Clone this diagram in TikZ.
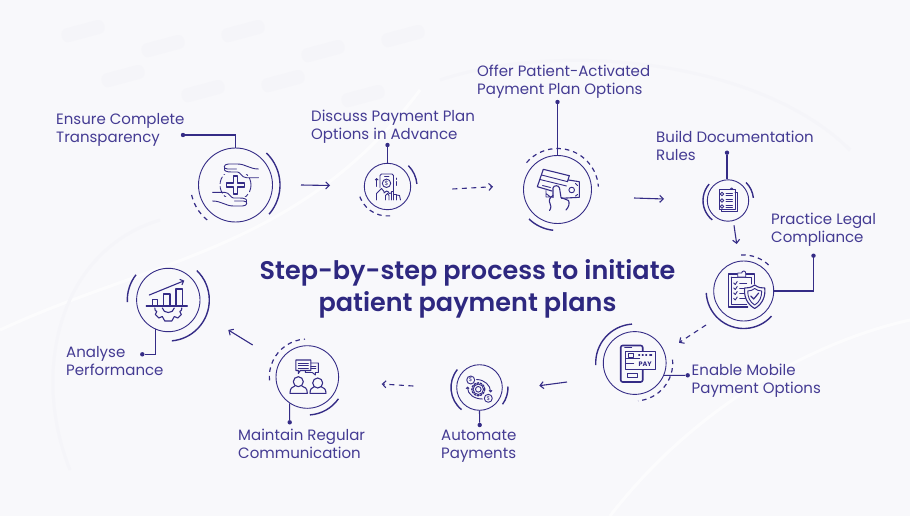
\documentclass[tikz,border=0pt]{standalone}
\usepackage{fontspec}
\setmainfont{Poppins}
\newfontfamily\ttlfont{Poppins SemiBold}
\usetikzlibrary{arrows.meta,calc}
\definecolor{ink}{HTML}{352C86}
\definecolor{txt}{HTML}{443B93}
\definecolor{ttl}{HTML}{2E2880}
\definecolor{bgc}{HTML}{F8F8FB}
\definecolor{fnt}{HTML}{F5F5F9}
\tikzset{
 ring/.style={circle,draw=ink,line width=.9pt,inner sep=0pt},
 sarc/.style={draw=ink,line width=1.4pt},
 darc/.style={draw=ink,line width=1.2pt,dash pattern=on 4.5pt off 4pt},
 dotn/.style={circle,fill=ink,inner sep=0pt,minimum size=4.4pt},
 conn/.style={draw=ink,line width=1.1pt},
 flow/.style={draw=ink,line width=1.1pt,-{Straight Barb[length=3.5pt,width=7pt,line width=1.1pt]}},
 dflow/.style={flow,dash pattern=on 5pt off 4.5pt},
 lbl/.style={anchor=west,align=left,text=txt,inner sep=0pt,font=\fontsize{15}{18}\selectfont},
 ttlb/.style={anchor=center,align=center,text=ttl,inner sep=0pt,font=\fontsize{25.5}{32}\ttlfont},
 ico/.style={draw=ink,line width=.9pt,line join=round,line cap=round},
 faint/.style={fill=fnt,draw=none,rounded corners=6pt},
}
\newcommand\SA[4]{\draw[sarc] (#1.center) ++(#2:#4) arc[start angle=#2,end angle=#3,radius=#4];}
\newcommand\DA[4]{\draw[darc] (#1.center) ++(#2:#4) arc[start angle=#2,end angle=#3,radius=#4];}
\begin{document}
\begin{tikzpicture}[x=1pt,y=-1pt]
\useasboundingbox (0,0) rectangle (910,516);
\fill[bgc] (0,0) rectangle (910,516);
% faint background
\foreach \x/\y in {60/30,140/45,220/30,300/50,380/35,100/75,180/90,260/80,340/95}
  \fill[faint,rotate around={15:(\x,\y)}] (\x,\y) rectangle ++(44,14);
\draw[white,line width=3pt,opacity=.6] (0,330) .. controls (150,260) and (300,250) .. (420,90);
\draw[white,line width=3pt,opacity=.6] (610,516) .. controls (700,400) and (820,340) .. (910,320);
\draw[fnt,line width=3pt] (70,470) .. controls (30,370) and (60,250) .. (160,220);
\draw[fnt,line width=3pt] (440,80) .. controls (560,40) and (760,60) .. (850,150);

% rings
\node[ring,minimum size=74pt] (c1) at (235.5,185) {};
\node[ring,minimum size=46.4pt] (c2) at (387.5,186.5) {};
\node[ring,minimum size=68pt] (c3) at (557.5,189.5) {};
\node[ring,minimum size=41.4pt] (c4) at (728,200.5) {};
\node[ring,minimum size=60pt] (c5) at (743.7,291) {};
\node[ring,minimum size=62.8pt] (c6) at (634.7,363) {};
\node[ring,minimum size=45.6pt] (c7) at (479.5,387.5) {};
\node[ring,minimum size=62.6pt] (c8) at (307.3,377) {};
\node[ring,minimum size=63.4pt] (c9) at (168.3,300) {};

% outer arcs
\SA{c1}{-46}{41}{44.5}\DA{c1}{129}{170}{45}
\SA{c2}{-45}{-5}{29.5}\DA{c2}{85}{167}{29.5}
\DA{c3}{221}{356}{41}\SA{c3}{96}{134}{41}
\SA{c4}{129}{221}{25}\SA{c4}{-45}{-6}{25.5}
\DA{c5}{-94}{-44}{36}\SA{c5}{42}{177}{37.5}
\SA{c6}{177}{266}{39}\DA{c6}{-5}{85}{38}
\SA{c7}{129}{219}{28.5}\SA{c7}{-2}{36}{28.5}
\DA{c8}{175}{266.5}{38}\SA{c8}{35}{86}{38}
\SA{c9}{177}{218}{41}\SA{c9}{-46}{85}{41}

% dots and connectors
\node[dotn] (d1) at (183,135) {};
\node[dotn] (d2) at (387.5,145) {};
\node[dotn] (d3) at (557.5,102) {};
\node[dotn] (d4) at (727,152.7) {};
\node[dotn] (d5) at (813.5,255.7) {};
\node[dotn] (d6) at (687.7,375.3) {};
\node[dotn] (d7) at (479.7,425) {};
\node[dotn] (d8) at (289.7,422.3) {};
\node[dotn] (d9) at (142.3,354.3) {};
\draw[conn] (d1) -| (c1.north);
\draw[conn] (d2) -- (c2.north);
\draw[conn] (d3) -- (c3.north);
\draw[conn] (d4) -- (d4 |- c4.north);
\draw[conn] (c5.east) -| (d5);
\draw[conn] (c6.-23) -- (d6);
\draw[conn] (c7.south) -- (d7);
\draw[conn] (c8.-124) -- (d8);
\draw[conn] (c9.-114) |- (d9);

% flow arrows
\coordinate (a1) at (301,185); \coordinate (b1) at (330,185.5);
\coordinate (a2) at (452.3,189); \coordinate (b2) at (493,186.7);
\coordinate (a3) at (634,198); \coordinate (b3) at (664,199);
\coordinate (a4) at (734,225.3); \coordinate (b4) at (736.7,244);
\coordinate (a5) at (706,325); \coordinate (b5) at (679,342.7);
\coordinate (a6) at (567,382); \coordinate (b6) at (539.3,385.7);
\coordinate (a7) at (413.3,386); \coordinate (b7) at (381.7,384);
\coordinate (a8) at (252.7,345); \coordinate (b8) at (228.3,330);
\draw[flow] (a1) -- (b1);
\draw[dflow] (a2) -- (b2);
\draw[flow] (a3) -- (b3);
\draw[flow] (a4) -- (b4);
\draw[dflow] (a5) -- (b5);
\draw[flow] (a6) -- (b6);
\draw[dflow] (a7) -- (b7);
\draw[flow] (a8) -- (b8);

% labels
\node[lbl] (t1) at (56,129.5) {Ensure Complete\\Transparency};
\node[lbl] (t2) at (311,127) {Discuss Payment Plan\\Options in Advance};
\node[lbl] (t3) at (477,81.5) {Offer Patient-Activated\\Payment Plan Options};
\node[lbl] (t4) at (656,146) {Build Documentation\\Rules};
\node[lbl] (t5) at (771,230) {Practice Legal\\Compliance};
\node[lbl] (t6) at (691.5,381) {Enable Mobile\\Payment Options};
\node[lbl] (t7) at (441,446) {Automate\\Payments};
\node[lbl] (t8) at (238,444) {Maintain Regular\\Communication};
\node[lbl] (t9) at (66,361) {Analyse\\Performance};
\node[ttlb] (title) at (467.5,289) {Step-by-step process to initiate\\patient payment plans};

% icon 1: caring hands
\begin{scope}[shift={(235.5,185)}]
\draw[ico,line width=1.1pt] (-2,-9)--(2,-9)--(2,-2)--(9,-2)--(9,2)--(2,2)--(2,9)--(-2,9)--(-2,2)--(-9,2)--(-9,-2)--(-2,-2)--cycle;
\draw[ico,dash pattern=on 7pt off 3pt] (0,0) circle (15.5);
\foreach \r in {0,180}{
\begin{scope}[rotate=\r]
\fill[bgc] (-14,-22) rectangle (23,-11.5);
\draw[ico] (23,-16) .. controls (14,-16) and (10,-21) .. (2,-21) -- (-7,-21) .. controls (-12,-21) and (-13,-16) .. (-8,-16) -- (1,-16);
\draw[ico] (-11,-17) .. controls (-12,-14) and (-9,-13) .. (-4,-13) -- (2,-13) .. controls (5,-13) and (6,-7.3) .. (11,-7.3) -- (23,-7.3);
\end{scope}}
\end{scope}

% icon 2: phone and hand
\begin{scope}[shift={(387.5,186.5)}]
\draw[ico,rounded corners=1.5pt] (-7.5,1)--(-7.5,-12.5)--(6,-12.5)--(6,5);
\draw[ico] (-3,-10.5)--(1.5,-10.5);
\draw[ico] (-1,-3.2) circle (4.2);
\node[text=ink,inner sep=0pt,font=\fontsize{6}{6}\selectfont] (i2) at (-1,-3.2) {\$};
\draw[ico,->,>={Straight Barb[length=1.5pt,width=3pt]}] (-10.8,0)--(-10.8,-8.5);
\draw[ico] (8.5,-1)--(8.5,-5) (8.5,-7)--(8.5,-8.5);
\draw[ico] (-11,13.5) -- (-11,7) -- (-6,2) -- (-3.5,5) -- (-3.5,6.5) -- (-1,4.5) -- (1,5.5) -- (1.5,7) -- (4,6.5);
\draw[ico] (-2,13.5)--(-2,9) -- (0,7) -- (1.5,9) -- (1.5,13.5);
\draw[ico] (4,13.5)--(4,5) -- (6,5) -- (6,13.5) (6,8) -- (9,8) -- (9,13.5) (9,8.5) -- (12,9) -- (13,13.5);
\end{scope}

% icon 3: card and note
\begin{scope}[shift={(557.5,189.5)}]
\draw[ico,line width=1.1pt] (11.8,-13.8)--(-14.2,-20.2)--(-20.2,-2.8)--(-5.5,1.5);
\draw[ico,line width=1.1pt] (11.8,-13.8)--(10,-8);
\draw[ico] (-16,-14.5)--(10.2,-7.8) (-17.5,-10)--(9,-3.5);
\draw[ico] (-15,-4)--(-7,-2);
\draw[ico,line width=1.1pt] (11,-9.5)--(21.8,-7.8)--(21.8,7.8)--(4,8.8);
\draw[ico] (14.2,.5) circle (2.8);
\draw[ico] (18,-6) -- (20,-4) (18,6.5)--(20,5);
\draw[ico] (-11.5,1)--(-11.5,7.5)--(-4.5,7.5) (-11.5,4)--(-7,7.5);
\draw[ico,line width=1.1pt] (-4.5,8) -- (-4.5,-1.5) .. controls (-4,-4.5) and (1.5,-4.5) .. (2,-1.5) -- (3.5,8) -- (11,11) .. controls (12.5,14) and (11,18) .. (8.5,20.5);
\draw[ico,line width=1.1pt] (-4.5,6) .. controls (-8,8) and (-9,11) .. (-7.5,14) .. controls (-6.5,16) and (-6,18) .. (-8,21);
\end{scope}

% icon 4: document
\begin{scope}[shift={(728,200.5)}]
\draw[ico] (-9,-11)--(7,-11)--(7,9)--(-9,9)--cycle;
\draw[ico] (7,-8)--(9,-8)--(9,11)--(-7,11)--(-7,9);
\draw[ico] (2,-11) arc[start angle=180,end angle=360,radius=1.6];
\foreach \y in {-6.5,0,6}{
\draw[ico] (-6,\y) circle (1.7);
\draw[ico] (-2,\y-.8)--(4.5,\y-.8) (-2,\y+1)--(4.5,\y+1);}
\end{scope}

% icon 5: clipboard and shield
\begin{scope}[shift={(743.7,291)}]
\draw[ico,line width=1.1pt] (4,16)--(-15.5,16)--(-15.5,-17)--(11,-17)--(11,-7);
\draw[ico] (-12.5,-14)--(8,-14)--(8,-7) (-12.5,-14)--(-12.5,13)--(3,13);
\draw[ico,fill=bgc] (-6,-14)--(-6,-18)--(-2,-18) arc[start angle=180,end angle=360,radius=2] --(2,-18)--(2,-14)--cycle;
\foreach \y in {-8,-3,2,7.5}{
\draw[ico] (-10,\y)--(-8.5,\y+1.5)--(-6.5,\y-1.5);
\draw[ico] (-4,\y)--(3,\y);}
\draw[ico,line width=1.1pt,fill=bgc] (11,-6) .. controls (15,-3) and (18,-3) .. (21,-3) .. controls (22,5) and (19,13) .. (11,17.5) .. controls (3,13) and (0,5) .. (1,-3) .. controls (4,-3) and (7,-3) .. (11,-6);
\draw[ico] (11,-2.5) .. controls (13,-1) and (15,0) .. (18,0) .. controls (18,6) and (16,11) .. (11,14) .. controls (6,11) and (4,6) .. (4,0) .. controls (7,0) and (9,-1) .. (11,-2.5);
\draw[ico,line width=1.2pt] (7,5)--(10,8)--(15,2);
\end{scope}

% icon 6: mobile pay
\begin{scope}[shift={(634.7,363)}]
\draw[ico,line width=1.6pt,rounded corners=2pt] (-14,-17.5)--(8,-17.5)--(8,19)--(-14,19)--cycle;
\draw[ico] (-10,-15.5)--(-3,-15.5);
\draw[ico,fill=bgc] (-9,-11.5)--(20.5,-11.5)--(20.5,6.5)--(-9,6.5)--cycle;
\draw[ico] (-9,-5)--(5,-5)  (-9,0)--(-1,0);
\draw[ico] (-6.5,-9.5) rectangle (-1.5,-5.5);
\draw[ico] (-7,10) rectangle (3,14);
\draw[ico,line width=1.1pt] (4,-8)--(5,-8) (7.5,-8)--(8.5,-8) (11,-8)--(12,-8) (15,-8)--(17,-8);
\node[text=ink,inner sep=0pt,font=\fontsize{6.5}{6.5}\selectfont\bfseries] (i6) at (10.5,1) {PAY};
\end{scope}

% icon 7: gear and coins
\begin{scope}[shift={(479.5,387.5)}]
\draw[ico] (-1.2,1.8) circle (2.8);
\draw[ico] (-1.2,1.8) circle (5.2);
\draw[ico,dash pattern=on 1.6pt off 1.6pt,line width=1.4pt] (-1.2,1.8) circle (6.4);
\draw[ico,fill=bgc] (-8.8,-7.5) circle (4);
\draw[ico,fill=bgc] (8.8,10.8) circle (4);
\node[text=ink,inner sep=0pt,font=\fontsize{5.5}{5.5}\selectfont] (i7a) at (-8.8,-7.5) {\$};
\node[text=ink,inner sep=0pt,font=\fontsize{5.5}{5.5}\selectfont] (i7b) at (8.8,10.8) {\$};
\draw[ico,->,>={Straight Barb[length=1.5pt,width=3pt]}] (-3,-8) .. controls (5,-8) and (11,-2) .. (11,5);
\draw[ico,->,>={Straight Barb[length=1.5pt,width=3pt]}] (3,11.5) .. controls (-5,11.5) and (-12,7) .. (-12,-1);
\end{scope}

% icon 8: people and chat
\begin{scope}[shift={(307.3,377)}]
\draw[ico,line width=1.1pt] (-11.5,-17)--(3.5,-17)--(3.5,-6.5)--(-7,-6.5)--(-9,-3.5)--(-9,-6.5)--(-11.5,-6.5)--cycle;
\draw[ico] (-9,-14)--(1,-14) (-9,-11.5)--(1,-11.5) (-9,-9)--(1,-9);
\draw[ico] (3.5,-14)--(11,-14)--(11,-4.5)--(8,-4.5)--(8,-2)--(5,-4.5)--(-2,-4.5)--(-2,-6.5);
\draw[ico] (3.5,-11)--(8.5,-11) (3.5,-8.5)--(8.5,-8.5);
\draw[ico,line width=1.1pt] (-9,4.7) circle (5);
\draw[ico,line width=1.1pt] (10.4,6) circle (5);
\draw[ico,line width=1.1pt] (-12.5,9) .. controls (-15,10) and (-17.3,11) .. (-17.3,16.3) -- (0,16.3) .. controls (0,11) and (-2.5,10) .. (-5.5,9);
\draw[ico,line width=1.1pt] (7,9.7) .. controls (4.5,10.5) and (2.7,12) .. (2.7,16.3) -- (18.7,16.3) .. controls (18.7,12) and (16.5,10.5) .. (13.8,9.7);
\end{scope}

% icon 9: chart and gear
\begin{scope}[shift={(168.3,300)}]
\draw[ico,line width=1.3pt] (-22,6)--(19,6);
\draw[ico,line width=1.1pt] (-16,6)--(-16,-.7)--(-10.6,-.7)--(-10.6,6);
\draw[ico,line width=1.1pt] (-5,6)--(-5,-6)--(1.7,-6)--(1.7,6);
\draw[ico,line width=1.1pt] (7.7,6)--(7.7,-11)--(14.4,-11)--(14.4,6);
\draw[ico,line width=1.1pt,-{Straight Barb[length=3pt,width=6pt]}] (-19,-5)--(16,-19.3);
\draw[ico,line width=1.1pt] (-13.5,8) .. controls (-13.5,10) and (-13,11) .. (-11.5,11.5) -- (-13,14.5) -- (-9.5,18) -- (-6,16.5) -- (-3.5,21) -- (3.5,21) -- (6,16.5) -- (9.5,18) -- (13,14.5) -- (11.5,11.5) .. controls (13,11) and (13.5,10) .. (13.5,8);
\draw[ico,line width=1.1pt] (-6,8) .. controls (-5,14) and (5,14) .. (6,8);
\end{scope}
\end{tikzpicture}
\end{document}
